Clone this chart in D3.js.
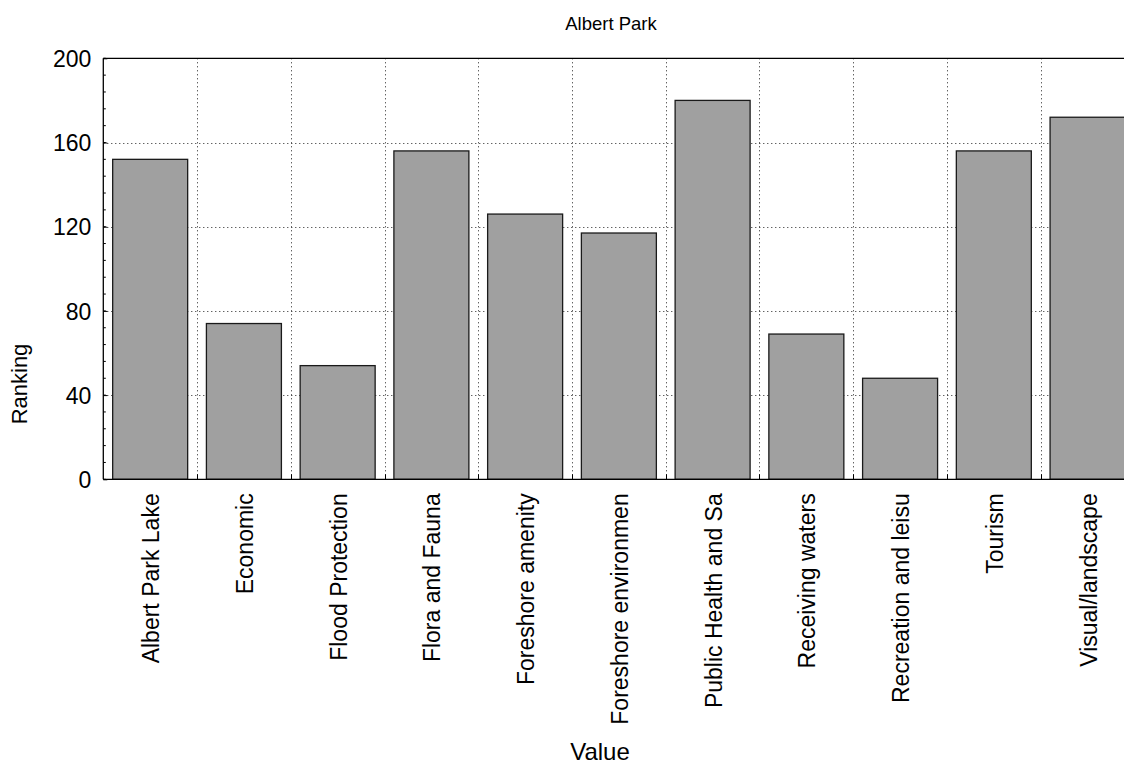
<!DOCTYPE html>
<html>
<head>
<meta charset="utf-8">
<script src="https://cdn.jsdelivr.net/npm/d3@7"></script>
<style>
  html, body { margin: 0; padding: 0; background: #fff; overflow: hidden; }
  text { font-family: "Liberation Sans", Arial, sans-serif; fill: #000; }
</style>
</head>
<body>
<svg id="chart" width="1124" height="765"></svg>
<script>
// Ranking per value category, Albert Park
const categories = [
  "Albert Park Lake", "Economic", "Flood Protection", "Flora and Fauna",
  "Foreshore amenity", "Foreshore environmen", "Public Health and Sa",
  "Receiving waters", "Recreation and leisu", "Tourism", "Visual/landscape"
];
const rankings = [152, 74, 54, 156, 126, 117, 180, 69, 48, 156, 172];
const yTicks = [0, 40, 80, 120, 160, 200];
const yMinorTicks = d3.range(0, 201, 8);

const chartTitle = "Albert Park";
const xTitle = "Value";
const yTitle = "Ranking";

const svg = d3.select("#chart");
const plotLeft = 103.3, plotTop = 58.3, plotBottom = 479.3, band = 93.74;
const plotRight = plotLeft + band * categories.length;

const x = d3.scaleBand().domain(categories).range([plotLeft, plotRight]).paddingInner(0.2).paddingOuter(0.1);
const xb = d3.scaleBand().domain(categories).range([plotLeft, plotRight]);
const y = d3.scaleLinear().domain([0, 200]).range([plotBottom, plotTop]);

// Dotted grid
const grid = svg.append("g").attr("stroke", "#222").attr("stroke-width", 1).attr("stroke-dasharray", "1,3");
grid.selectAll("line.h").data(yTicks.filter(d => d > 0 && d < 200)).join("line")
  .attr("x1", plotLeft).attr("x2", plotRight)
  .attr("y1", d => Math.round(y(d)) + 0.5).attr("y2", d => Math.round(y(d)) + 0.5);
grid.selectAll("line.v").data(categories.slice(1)).join("line")
  .attr("x1", d => Math.round(xb(d)) + 0.5).attr("x2", d => Math.round(xb(d)) + 0.5)
  .attr("y1", plotTop).attr("y2", plotBottom);

// Bars
svg.append("g").selectAll("rect").data(categories).join("rect")
  .attr("x", d => x(d))
  .attr("width", x.bandwidth())
  .attr("y", (d, i) => y(rankings[i]))
  .attr("height", (d, i) => y(0) - y(rankings[i]))
  .attr("fill", "#a0a0a0")
  .attr("stroke", "#1a1a1a")
  .attr("stroke-width", 1.3);

// Frame: left, top, bottom
const frame = svg.append("g").attr("stroke", "#000").attr("stroke-width", 1.3).attr("fill", "none");
frame.append("line").attr("x1", plotLeft).attr("x2", plotLeft).attr("y1", plotTop).attr("y2", plotBottom);
frame.append("line").attr("x1", plotLeft).attr("x2", plotRight).attr("y1", plotTop).attr("y2", plotTop);
frame.append("line").attr("x1", plotLeft).attr("x2", plotRight).attr("y1", plotBottom).attr("y2", plotBottom);

// Y axis with inward ticks
const yAxis = d3.axisLeft(y).tickValues(yTicks).tickSize(-4).tickPadding(12).tickFormat(d3.format("d"));
const ya = svg.append("g").attr("transform", `translate(${plotLeft},0)`).call(yAxis);
ya.select(".domain").remove();
ya.selectAll("text").style("font-size", "23px").attr("dy", "0.36em");
ya.selectAll("line").attr("stroke", "#000");

// Minor ticks
svg.append("g").selectAll("line").data(yMinorTicks).join("line")
  .attr("x1", plotLeft).attr("x2", plotLeft + 2.5)
  .attr("y1", d => y(d)).attr("y2", d => y(d))
  .attr("stroke", "#000").attr("stroke-width", 1);

// Band boundary ticks at bottom
svg.append("g").selectAll("line").data(categories.slice(1)).join("line")
  .attr("x1", d => Math.round(xb(d)) + 0.5).attr("x2", d => Math.round(xb(d)) + 0.5)
  .attr("y1", plotBottom).attr("y2", plotBottom - 5)
  .attr("stroke", "#000").attr("stroke-width", 1);

// X axis labels (rotated)
const xAxis = d3.axisBottom(x).tickSize(0).tickPadding(0);
const xa = svg.append("g").attr("transform", `translate(0,${plotBottom})`).call(xAxis);
xa.select(".domain").remove();
xa.selectAll("text")
  .style("font-size", "23px")
  .attr("text-anchor", "end")
  .attr("dy", null)
  .attr("transform", "translate(9,14) rotate(-90)");

// Titles
svg.append("text").attr("x", 611).attr("y", 30).attr("text-anchor", "middle")
  .style("font-size", "18.5px").text(chartTitle);
svg.append("text").attr("x", 600).attr("y", 760).attr("text-anchor", "middle")
  .style("font-size", "24px").text(xTitle);
svg.append("text").attr("transform", "translate(27,384) rotate(-90)").attr("text-anchor", "middle")
  .style("font-size", "22px").text(yTitle);
</script>
</body>
</html>
